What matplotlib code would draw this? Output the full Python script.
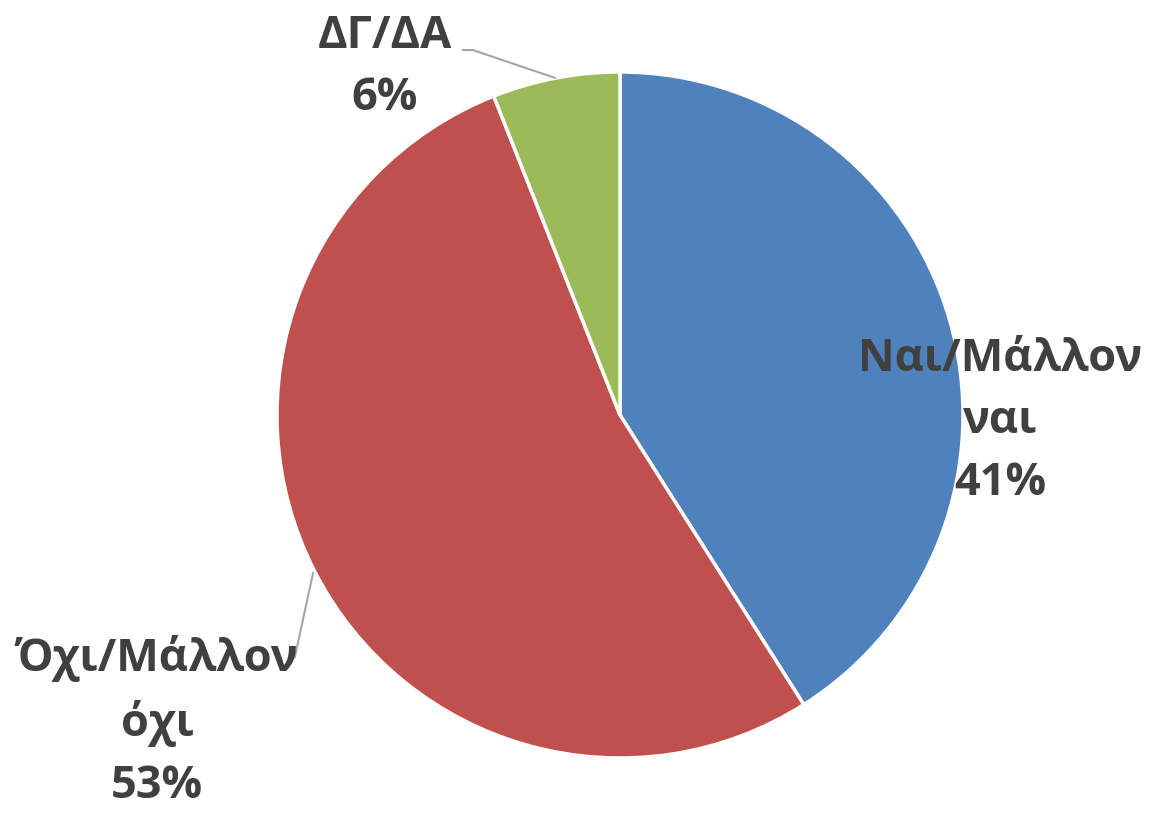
import matplotlib
matplotlib.use('Agg')
import matplotlib.pyplot as plt

# survey answers (share of respondents)
labels = ['Ναι/Μάλλον\nναι', 'Όχι/Μάλλον\nόχι', 'ΔΓ/ΔΑ']
values = [41, 53, 6]
colors = ['#4F81BD', '#C0504D', '#9BBB59']

plt.rcParams['font.family'] = ['Open Sans', 'DejaVu Sans']

fig = plt.figure(figsize=(11.54, 8.15), dpi=100)
# pie centre at about (620, 415) px, radius 343 px
ax = fig.add_axes([(620 - 343) / 1154, (815 - 415 - 343) / 815, 686 / 1154, 686 / 815])
ax.pie(values, colors=colors, startangle=90, counterclock=False, radius=1,
       wedgeprops=dict(edgecolor='white', linewidth=2.5))
ax.set_xlim(-1, 1)
ax.set_ylim(-1, 1)
ax.set_aspect('equal')
ax.axis('off')

# label positions in data units
label_pos = [(1.108, -0.02), (-1.35, -0.895), (-0.685, 1.012)]
for lab, v, (x, y) in zip(labels, values, label_pos):
    ax.text(x, y, f'{lab}\n{v}%', ha='center', va='center', fontsize=32.5,
            fontweight='bold', color='#404040', linespacing=1.5, clip_on=False)

# leader lines
ax.plot([-0.458, -0.429, -0.190], [1.064, 1.064, 0.983], color='#A6A6A6', lw=1.5, clip_on=False)
ax.plot([-0.895, -0.948], [-0.461, -0.706], color='#A6A6A6', lw=1.5, clip_on=False)

fig.savefig('out.png', dpi=100)
